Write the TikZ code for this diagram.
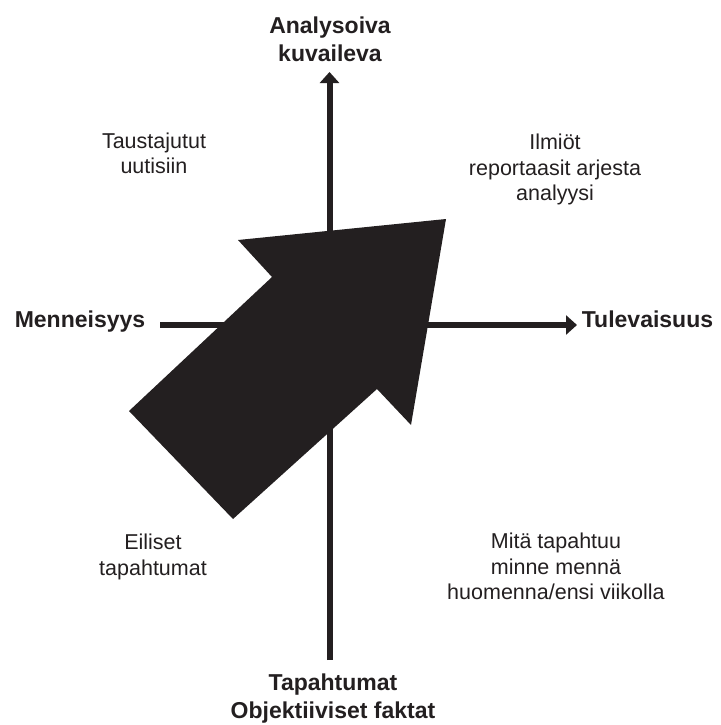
\documentclass[tikz,border=0pt]{standalone}
\usepackage{fontspec}
\setmainfont{Liberation Sans}
\usetikzlibrary{arrows.meta}
\definecolor{ink}{RGB}{35,31,32}
\tikzset{axisline/.style = {line width=6pt, draw=ink},
         axistip/.style = {-{Triangle[width=19pt,length=11pt]}},
         pole/.style = {font=\fontsize{23}{28}\selectfont\bfseries, text=ink,
                        align=center, inner sep=0pt},
         note/.style = {font=\fontsize{21.5}{25.5}\selectfont, text=ink,
                        align=center, inner sep=0pt}}

\begin{document}
\begin{tikzpicture}[x=1pt, y=-1pt]
    \useasboundingbox (0, 0) rectangle (720, 725);
    % axes
    \coordinate (n) at (329.5, 72);
    \coordinate (s) at (329.5, 660);
    \coordinate (w) at (160, 325);
    \coordinate (e) at (577, 325);
    \draw [axisline, axistip] (s) -- (n);
    \draw [axisline, axistip] (w) -- (e);
    % big arrow
    \fill [ink] (446, 219) -- (238, 240) -- (272, 277) -- (129, 411)
        -- (233, 519) -- (377, 389) -- (411, 425) -- cycle;
    \node [pole] (up) at (330, 39.5) {Analysoiva\\kuvaileva};
    \node [pole] (down) at (333, 698.5) {Tapahtumat\\Objektiiviset faktat};
    \node [pole, anchor=base] (past) at (80, 327.5) {Menneisyys};
    \node [pole, anchor=base] (future) at (647.5, 327) {Tulevaisuus};
    \node [note] (nw) at (154, 153.3) {Taustajutut\\uutisiin};
    \node [note] (ne) at (555, 169.5) {Ilmiöt\\reportaasit arjesta\\analyysi};
    \node [note] (sw) at (153, 557) {Eiliset\\tapahtumat};
    \node [note] (se) at (556, 566.8) {Mitä tapahtuu\\minne mennä\\huomenna/ensi viikolla};
\end{tikzpicture}
\end{document}
